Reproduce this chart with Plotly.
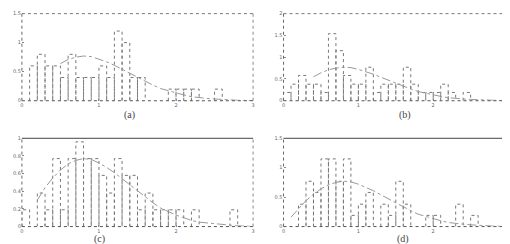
import plotly.graph_objects as go

# ---------------- data ----------------
bin_starts = [0.0, 0.1, 0.2, 0.3, 0.4, 0.5, 0.6, 0.7, 0.8, 0.9,
              1.0, 1.1, 1.2, 1.3, 1.4, 1.5, 1.6, 1.7, 1.8, 1.9,
              2.0, 2.1, 2.2, 2.3, 2.4, 2.5, 2.6, 2.7, 2.8, 2.9]
bin_width = 0.1

hist_a = [0, 0.6, 0.8, 0.6, 0.6, 0.4, 0.8, 0.4, 0.4, 0.4,
          0.6, 0.4, 1.2, 1.0, 0.4, 0.4, 0, 0, 0, 0.2,
          0.2, 0.2, 0.2, 0, 0, 0.2, 0, 0, 0, 0]
hist_b = [0.19, 0.38, 0.58, 0.38, 0.38, 0.19, 1.54, 1.15, 0.58, 0.38,
          0.38, 0.77, 0.19, 0.38, 0.38, 0.38, 0.77, 0.38, 0.19, 0.19,
          0.19, 0.38, 0.19, 0, 0.19, 0, 0, 0, 0, 0]
hist_c = [0.19, 0, 0.38, 0.19, 0.77, 0.19, 0.77, 0.96, 0.77, 0.77,
          0.58, 0.38, 0.77, 0.58, 0.58, 0.19, 0.38, 0.19, 0.19, 0.19,
          0.19, 0, 0.19, 0, 0, 0, 0, 0.19, 0, 0]
hist_d = [0, 0, 0.38, 0.77, 0.58, 1.15, 1.15, 0.77, 1.15, 0.19,
          0.38, 0.58, 0, 0.38, 0.19, 0.77, 0.38, 0, 0, 0.19,
          0.19, 0, 0, 0.38, 0, 0.19, 0, 0, 0, 0]

curve_x = [0.1, 0.2, 0.3, 0.4, 0.5, 0.6, 0.7, 0.8, 0.9, 1.0,
           1.1, 1.2, 1.3, 1.4, 1.5, 1.6, 1.7, 1.8, 1.9, 2.0,
           2.1, 2.2, 2.3, 2.4, 2.5, 2.6, 2.7, 2.8, 2.9, 3.0]
curve_y = [0.16, 0.30, 0.44, 0.55, 0.64, 0.71, 0.75, 0.77, 0.76, 0.72,
           0.67, 0.61, 0.54, 0.47, 0.40, 0.33, 0.27, 0.21, 0.17, 0.13,
           0.10, 0.07, 0.05, 0.04, 0.03, 0.02, 0.01, 0.008, 0.005, 0.003]
curve_start = {"a": 0.5, "b": 0.4, "c": 0.15, "d": 0.1}

x_ticks = [0, 1, 2, 3]
x_ticklabels = ["0", "1", "2", "3"]
y_ticks = {
    "a": [0, 0.5, 1, 1.5],
    "b": [0, 0.5, 1, 1.5, 2],
    "c": [0, 0.2, 0.4, 0.6, 0.8, 1],
    "d": [0, 0.5, 1, 1.5],
}
y_ticklabels = {
    "a": ["0", "0.5", "1", "1.5"],
    "b": ["0", "0.5", "1", "1.5", "2"],
    "c": ["0", "0.2", "0.4", "0.6", "0.8", "1"],
    "d": ["0", "0.5", "1", "1.5"],
}
y_max = {"a": 1.5, "b": 2, "c": 1, "d": 1.5}
captions = {"a": "(a)", "b": "(b)", "c": "(c)", "d": "(d)"}
hists = {"a": hist_a, "b": hist_b, "c": hist_c, "d": hist_d}

# ---------------- layout ----------------
W, H = 510, 244
panels = {
    "a": dict(ax="", xd=[12 / W, 245 / W], yd=[1 - 92 / H, 1 - 2.7 / H], cap=(120, 107)),
    "b": dict(ax="2", xd=[275.7 / W, 502 / W], yd=[1 - 92 / H, 1 - 2.7 / H], cap=(398, 107)),
    "c": dict(ax="3", xd=[12 / W, 245 / W], yd=[1 - 221 / H, 1 - 130.5 / H], cap=(90, 234)),
    "d": dict(ax="4", xd=[275.7 / W, 502 / W], yd=[1 - 221 / H, 1 - 130.5 / H], cap=(396, 234)),
}

fig = go.Figure()
shapes = []
annotations = []
tick_font = dict(family="DejaVu Sans, sans-serif", size=5, color="#666")

for key, p in panels.items():
    ax = p["ax"]
    xa = "x" + ax
    ya = "y" + ax
    # histogram outlines
    ox, oy = [], []
    for x0, h in zip(bin_starts, hists[key]):
        if h <= 0:
            continue
        x1 = x0 + bin_width
        ox += [x0, x0, x1, x1, None]
        oy += [0, h, h, 0, None]
    fig.add_trace(go.Scatter(x=ox, y=oy, mode="lines", xaxis=xa, yaxis=ya,
                             line=dict(color="#777", width=1, dash="dot"),
                             hoverinfo="skip", showlegend=False))
    # fitted curve
    cx = [x for x in curve_x if x >= curve_start[key]]
    cy = [y for x, y in zip(curve_x, curve_y) if x >= curve_start[key]]
    fig.add_trace(go.Scatter(x=cx, y=cy, mode="lines", xaxis=xa, yaxis=ya,
                             line=dict(color="#999", width=1, dash="dashdot"),
                             hoverinfo="skip", showlegend=False))

    fig.layout["xaxis" + ax] = dict(
        domain=p["xd"], anchor=ya, range=[0, 3], tickvals=x_ticks,
        ticktext=x_ticklabels, ticks="inside", ticklen=2, tickcolor="#888",
        showgrid=False, zeroline=False, showline=False, tickfont=tick_font,
        fixedrange=True)
    fig.layout["yaxis" + ax] = dict(
        domain=p["yd"], anchor=xa, range=[0, y_max[key]], tickvals=y_ticks[key],
        ticktext=y_ticklabels[key], ticks="inside", ticklen=2, tickcolor="#888",
        showgrid=False, zeroline=False, showline=False, tickfont=tick_font,
        fixedrange=True)

    xr = xa + " domain"
    yr = ya + " domain"
    top_solid = key in ("c", "d")
    # frame
    shapes.append(dict(type="line", xref=xr, yref=yr, x0=0, x1=1, y0=0, y1=0,
                       line=dict(color="#555", width=1, dash="dot")))
    shapes.append(dict(type="line", xref=xr, yref=yr, x0=0, x1=1, y0=1, y1=1,
                       line=dict(color="#444" if top_solid else "#777", width=1,
                                 dash="solid" if top_solid else "dot")))
    shapes.append(dict(type="line", xref=xr, yref=yr, x0=0, x1=0, y0=0, y1=1,
                       line=dict(color="#666", width=1, dash="dot")))
    shapes.append(dict(type="line", xref=xr, yref=yr, x0=1, x1=1, y0=0, y1=1,
                       line=dict(color="#888", width=1, dash="dot")))
    annotations.append(dict(text=captions[key], xref="paper", yref="paper",
                            x=p["cap"][0] / W, y=1 - p["cap"][1] / H,
                            showarrow=False, xanchor="center", yanchor="middle",
                            font=dict(family="Liberation Serif, DejaVu Serif, serif",
                                      size=10, color="#444")))

fig.update_layout(width=W, height=H, margin=dict(l=0, r=0, t=0, b=0),
                  paper_bgcolor="white", plot_bgcolor="white",
                  shapes=shapes, annotations=annotations, showlegend=False)

fig.write_html("out.html", config={"displayModeBar": False})
